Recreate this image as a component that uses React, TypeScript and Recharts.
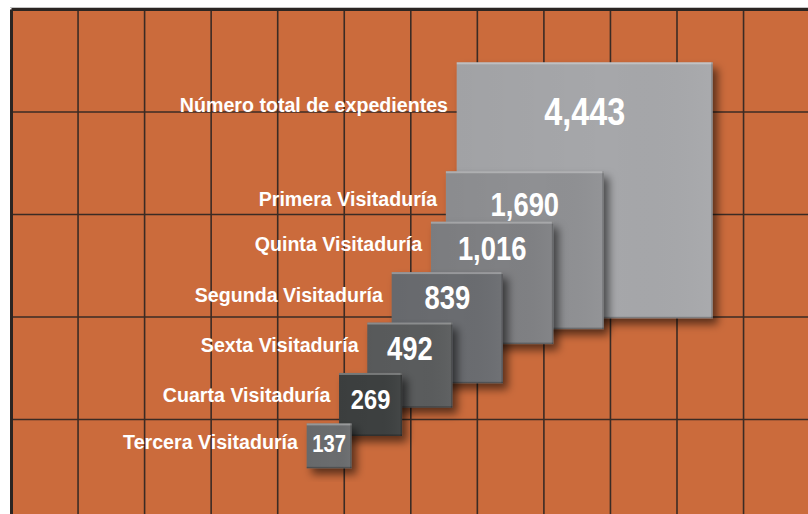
import { ScatterChart, Scatter, XAxis, YAxis, ZAxis, CartesianGrid, ReferenceLine } from "recharts";

const categories = [
  "Número total de expedientes",
  "Primera Visitaduría",
  "Quinta Visitaduría",
  "Segunda Visitaduría",
  "Sexta Visitaduría",
  "Cuarta Visitaduría",
  "Tercera Visitaduría",
];

const values = [4443, 1690, 1016, 839, 492, 269, 137];

const COLORS = ["#a6a7aa", "#8f9093", "#7f8083", "#6b6c6f", "#5a5b5d", "#3e3f40", "#6b6c6e"];

const FONT = "'Liberation Sans', Arial, Helvetica, sans-serif";

// chart frame
const W = 808;
const H = 514;
const PLOT_L = 11.5;
const PLOT_T = 9.5;
const PLOT_W = W - PLOT_L;
const PLOT_H = H - PLOT_T;

// background tiles
const TILE_W = 66.55;
const TILE_H = 102.5;

// squares step down a 45° diagonal (top-right corners)
const STEP = 50.43;
const CORNER_X = 712.7;
const CORNER_Y = 62.3;
const MAX_SIDE = 256;

const xMax = (CORNER_X - PLOT_L) / STEP;
const xDomain = [xMax - PLOT_W / STEP, xMax];
const yMin = -(CORNER_Y - PLOT_T) / STEP;
const yDomain = [yMin, yMin + PLOT_H / STEP];

// the biggest square gets extra room before the rest
const data = categories.map((name, i) => ({
  name,
  value: values[i],
  slot: i === 0 ? 0 : i + 1.16,
  color: COLORS[i],
}));

const tileLines = (start: number, length: number, tile: number) => {
  const out: number[] = [];
  for (let p = start + tile; p < start + length - 2; p += tile) out.push(p);
  return out;
};

function SquareShape(props: any) {
  const { cx, cy, size, payload } = props;
  if (cx == null || cy == null) return null;
  const side = Math.sqrt(size);
  const x = cx - side;
  const y = cy;
  const fs = side > 200 ? 39 : Math.min(33, 14 + 0.23 * side);
  const centerOff = Math.max(Math.min(side / 2 - 3, 25.5), 6.9 + 0.163 * side);
  const labelOff = Math.max(Math.min(side / 2 + 3, 29.5), 11.8 + 0.147 * side);
  const valueBase = y + centerOff + fs * 0.358;
  const labelBase = y + labelOff;

  return (
    <g>
      <rect x={x} y={y} width={side} height={side} fill={payload.color} filter="url(#sq-shadow)" />
      <rect x={x} y={y} width={side} height={side} fill="url(#sq-sheen)" />
      <rect x={x} y={y} width={side} height={2} fill="#ffffff" opacity={0.3} />
      <rect x={x + side - 1.5} y={y} width={1.5} height={side} fill="#000" opacity={0.2} />
      <rect x={x} y={y + side - 1.5} width={side} height={1.5} fill="#000" opacity={0.25} />
      <text
        transform={`translate(${x + side / 2},${valueBase}) scale(0.83,1)`}
        textAnchor="middle"
        fill="#ffffff"
        fontFamily={FONT}
        fontWeight="bold"
        fontSize={fs}
      >
        {payload.value.toLocaleString("en-US")}
      </text>
      <text
        transform={`translate(${x - 8.7},${labelBase}) scale(0.935,1)`}
        textAnchor="end"
        fill="#ffffff"
        fontFamily={FONT}
        fontWeight="bold"
        fontSize={21}
      >
        {payload.name}
      </text>
    </g>
  );
}

export default function App() {
  return (
    <div style={{ position: "absolute", left: 0, top: 0, width: W, height: H, background: "#ffffff", overflow: "hidden" }}>
      <svg width={0} height={0} style={{ position: "absolute" }}>
        <defs>
          <filter id="sq-shadow" x="-20%" y="-20%" width="150%" height="150%">
            <feDropShadow dx={5} dy={6} stdDeviation={4.5} floodColor="#000000" floodOpacity={0.55} />
          </filter>
          <linearGradient id="sq-sheen" x1="0" y1="0" x2="1" y2="0">
            <stop offset="0%" stopColor="#000000" stopOpacity={0.03} />
            <stop offset="60%" stopColor="#000000" stopOpacity={0.0} />
            <stop offset="100%" stopColor="#ffffff" stopOpacity={0.04} />
          </linearGradient>
        </defs>
      </svg>
      <div style={{ position: "absolute", left: 10, top: 6.5, width: W - 10, height: 1.2, background: "#c4c4c4" }} />
      <ScatterChart width={W} height={H} margin={{ top: PLOT_T, left: PLOT_L, right: 0, bottom: 0 }}>
        <XAxis xAxisId="px" type="number" dataKey="slot" domain={xDomain} reversed allowDataOverflow hide />
        <YAxis yAxisId="py" type="number" dataKey="slot" domain={yDomain} reversed allowDataOverflow hide />
        <ZAxis dataKey="value" type="number" domain={[0, values[0]]} range={[0, MAX_SIDE * MAX_SIDE]} />
        <CartesianGrid
          xAxisId="px"
          yAxisId="py"
          fill="#cb6b3c"
          fillOpacity={1}
          stroke="#3b2b24"
          strokeWidth={1.6}
          verticalCoordinatesGenerator={({ offset }: any) => tileLines(offset.left, offset.width, TILE_W)}
          horizontalCoordinatesGenerator={({ offset }: any) => tileLines(offset.top, offset.height, TILE_H)}
        />
        <ReferenceLine xAxisId="px" yAxisId="py" x={xDomain[1]} stroke="#2b2522" strokeWidth={3} ifOverflow="visible" />
        <ReferenceLine xAxisId="px" yAxisId="py" y={yDomain[0]} stroke="#2b2522" strokeWidth={3} ifOverflow="visible" />
        <Scatter
          data={data}
          xAxisId="px"
          yAxisId="py"
          shape={(p: any) => <SquareShape {...p} />}
          isAnimationActive={false}
        />
      </ScatterChart>
    </div>
  );
}
